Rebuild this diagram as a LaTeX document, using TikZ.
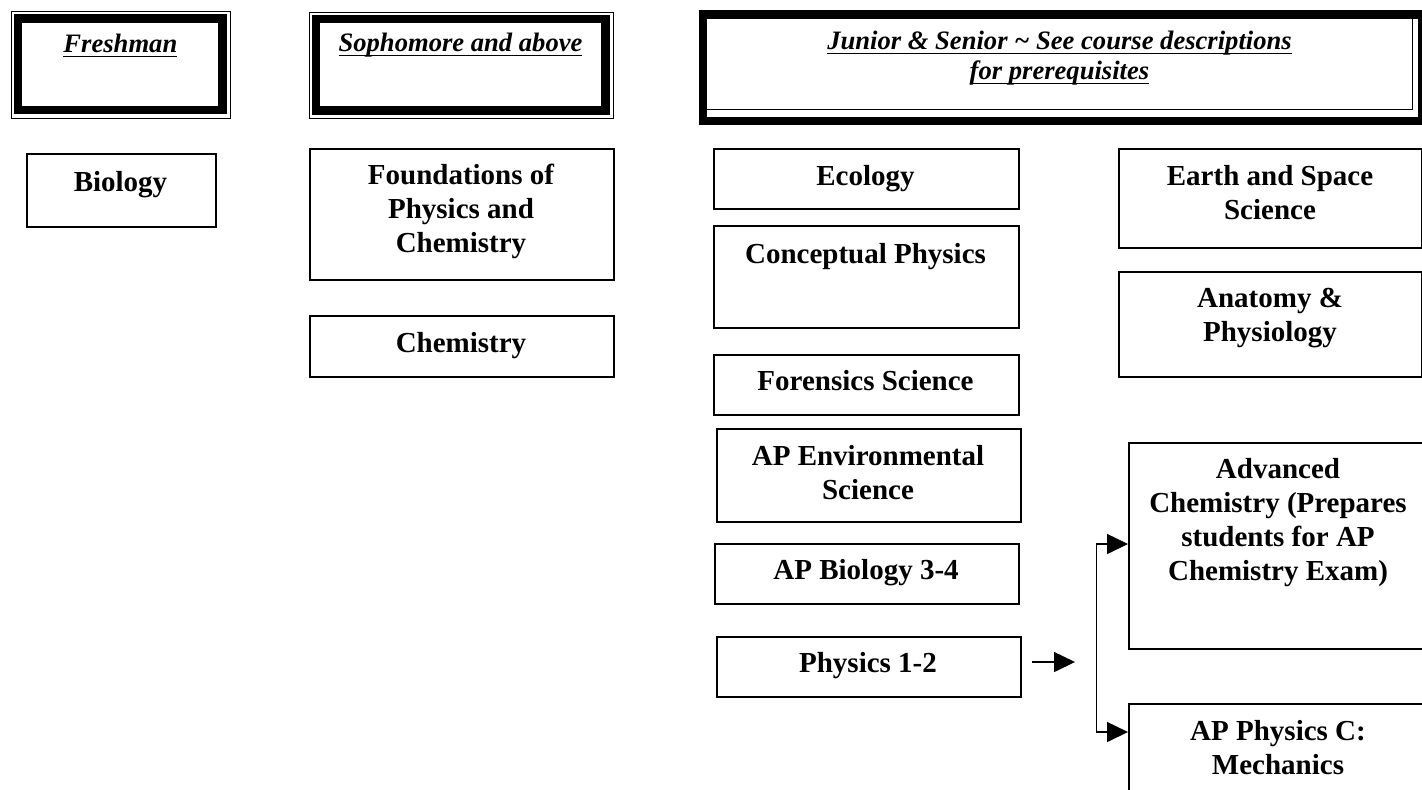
\documentclass[tikz,border=0pt]{standalone}
\usepackage{fontspec}
\setmainfont{Liberation Serif}
\usetikzlibrary{arrows.meta}
\newcommand\myul[1]{\setbox0=\hbox{#1}\rlap{\rule[-2.4pt]{\wd0}{0.6pt}}\box0}
\newcommand\stk[1]{\begin{tabular}[t]{@{}c@{}}#1\end{tabular}}
\newcommand\cbox[5]{\node[box, minimum width={(#4-#2)*0.5pt}, minimum height={(#5-#3)*0.5pt}] (#1) at (#2,#3) {};}
\begin{document}
\begin{tikzpicture}[x=0.5pt,y=-0.5pt,
  box/.style={draw, line width=1pt, inner sep=0pt, anchor=north west},
  body/.style={font=\fontsize{14.5}{17}\selectfont\bfseries, inner sep=0pt, anchor=base},
  head/.style={font=\fontsize{13.3}{15}\selectfont\bfseries\itshape, inner sep=0pt, anchor=base},
  thinf/.style={draw, line width=0.7pt, inner sep=0pt, anchor=north west},
  thickf/.style={draw, line width=4.2pt},
  tip/.tip={Triangle[length=10.5pt,width=10pt]},
  arr/.style={line width=0.75pt, -tip},
  conn/.style={line width=0.75pt}]
\useasboundingbox (0,0) rectangle (1422,789);

% ---- headers
\node[thinf, minimum width={(230-10.8)*0.5pt}, minimum height={(117.5-10.8)*0.5pt}] (freshF) at (10.8,10.8) {};
\draw[thickf] (17.8,18.3) rectangle (222.5,110);
\node[head] (freshT) at (120.4,52) {\myul{Freshman}};

\node[thinf, minimum width={(613-309)*0.5pt}, minimum height={(117.5-11.5)*0.5pt}] (sophF) at (309,11.5) {};
\draw[thickf] (315.8,18.8) rectangle (605.5,110.5);
\node[head] (sophT) at (460.5,51.5) {\myul{Sophomore and above}};

\node[draw, line width=4.2pt, inner sep=0pt, anchor=north west, minimum width={(1418.3-698.8)*0.5pt}, minimum height={(117-10.3)*0.5pt}] (junF) at (698.8,10.3) {};
\draw[line width=0.7pt] (705.8,17.5) rectangle (1412.5,109.2);
\node[head] (junT) at (1059.5,49) {\stk{\myul{Junior \& Senior \textasciitilde{} See course descriptions}\\[0pt]\myul{for prerequisites}}};

% ---- course boxes
\cbox{bio}{26}{153}{215}{226}
\cbox{fpc}{309}{148}{613}{279}
\cbox{chem}{309}{315}{613}{376}
\cbox{eco}{713}{148}{1018}{208}
\cbox{cphys}{713}{225}{1018}{327}
\cbox{foren}{713}{354}{1018}{414}
\cbox{apes}{716}{428}{1020}{521}
\cbox{apbio}{714}{543}{1018}{603}
\cbox{phys}{716}{636}{1020}{696}
\cbox{earth}{1118}{148}{1421}{247}
\cbox{anat}{1118}{271}{1421}{376}
\cbox{adv}{1128}{442}{1428}{648}
\cbox{apc}{1128}{703}{1428}{810}

% ---- texts
\node[body] (bioT) at (120.5,191) {Biology};
\node[body] (fpcT) at (461,184) {\stk{Foundations of\\Physics and\\Chemistry}};
\node[body] (chemT) at (461,352) {Chemistry};
\node[body] (ecoT) at (865.5,185) {Ecology};
\node[body] (cphysT) at (865.5,263) {Conceptual Physics};
\node[body] (forenT) at (865.5,390) {Forensics Science};
\node[body] (apesT) at (868,465) {\stk{AP Environmental\\Science}};
\node[body] (apbioT) at (866,579) {AP Biology 3-4};
\node[body] (physT) at (868,672) {Physics 1-2};
\node[body] (earthT) at (1270,185) {\stk{Earth and Space\\Science}};
\node[body] (anatT) at (1270,307) {\stk{Anatomy \&\\Physiology}};
\node[body] (advT) at (1278,478) {\stk{Advanced\\Chemistry (Prepares\\students for AP\\Chemistry Exam)}};
\node[body] (apcT) at (1278,740) {\stk{AP Physics C:\\Mechanics}};

% ---- connectors
\coordinate (pa) at (1031.5,662);
\coordinate (pb) at (1075,662);
\draw[arr] (pa) -- (pb);
\coordinate (jt) at (1096.5,544);
\coordinate (jb) at (1096.5,732);
\draw[conn, tip-tip] (jt -| adv.west) -- (jt) -- (jb) -- (jb -| apc.west);
\end{tikzpicture}
\end{document}
